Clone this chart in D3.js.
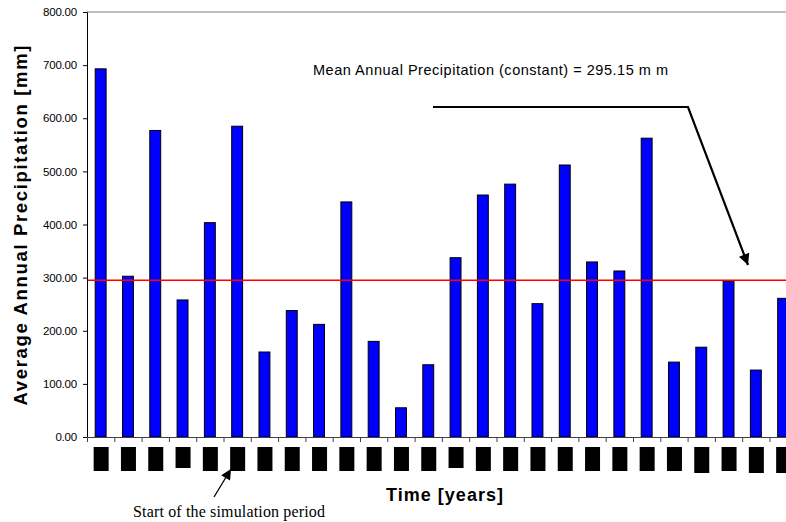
<!DOCTYPE html>
<html>
<head>
<meta charset="utf-8">
<script src="https://cdn.jsdelivr.net/npm/d3@7/dist/d3.min.js"></script>
<style>
  html, body { margin: 0; padding: 0; background: #fff; }
  svg { display: block; }
</style>
</head>
<body>
<svg id="chart" width="786" height="522"></svg>
<script>
// ---- data ----
const categories = ["1","2","3","4","5","6","7","8","9","10","11","12","13",
                    "14","15","16","17","18","19","20","21","22","23","24","25","26"];
const precipitation = [693, 302.6, 577, 258, 403.5, 585, 160, 238, 212, 442.5, 180, 55, 136,
                       337.5, 455.5, 476, 251, 512, 329.5, 312.5, 562.5, 141, 169, 293, 126, 261];
const meanPrecip = 295.15;
const yTicks = [0, 100, 200, 300, 400, 500, 600, 700, 800];
// redacted (blacked-out) year tick labels: relative length of each label box
const redactedLabelLen = [24,24,24,21,24,24,24,24,24,24,24,24,24,
                          21,24,24,24,24,24,24,24,24,26,24,26,26];

(function () {
// ---- layout ----
const svg = d3.select("#chart");
const pLeft = 87, pTop = 12, pBottom = 437;
const step = 27.3;
const pRight = pLeft + step * categories.length;

const y = d3.scaleLinear().domain([0, 800]).range([pBottom, pTop]);
const x = d3.scaleBand().domain(categories).range([pLeft, pRight])
  .paddingInner(0.6).paddingOuter(0.3);
const xb = d3.scaleLinear().domain([0, categories.length]).range([pLeft, pRight]);

const font = "'Liberation Sans', Arial, sans-serif";

// top border
svg.append("line").attr("x1", pLeft).attr("x2", 786).attr("y1", pTop).attr("y2", pTop)
  .attr("stroke", "#808080").attr("stroke-width", 1);

// bars
svg.append("g").selectAll("rect").data(precipitation).join("rect")
  .attr("x", (d, i) => x(categories[i]))
  .attr("y", d => y(d))
  .attr("width", x.bandwidth())
  .attr("height", d => y(0) - y(d))
  .attr("fill", "#0000ff")
  .attr("stroke", "#000")
  .attr("stroke-width", 1);

// mean line
svg.append("line").attr("x1", pLeft).attr("x2", 786)
  .attr("y1", y(meanPrecip)).attr("y2", y(meanPrecip))
  .attr("stroke", "#ff0000").attr("stroke-width", 1.5);

// y axis
const yAxis = svg.append("g").attr("transform", `translate(${pLeft},0)`)
  .call(d3.axisLeft(y).tickValues(yTicks).tickFormat(d3.format(".2f")).tickSize(4).tickPadding(6));
yAxis.select(".domain").attr("stroke", "#000");
yAxis.selectAll(".tick line").attr("stroke", "#000");
yAxis.selectAll("text").attr("font-family", font).attr("font-size", 11.5)
  .attr("letter-spacing", -0.2).attr("fill", "#000");

// x axis (ticks at category boundaries)
const xAxis = svg.append("g").attr("transform", `translate(0,${pBottom})`)
  .call(d3.axisBottom(xb).tickValues(d3.range(0, categories.length + 1)).tickFormat("").tickSize(5).tickSizeOuter(0));
xAxis.select(".domain").attr("stroke", "#404040");
xAxis.selectAll(".tick line").attr("stroke", "#404040");

// redacted tick labels
svg.append("g").selectAll("rect").data(redactedLabelLen).join("rect")
  .attr("x", (d, i) => x(categories[i]) + x.bandwidth() / 2 + 0.5 - 7.5)
  .attr("y", 447)
  .attr("width", 15)
  .attr("height", d => d)
  .attr("fill", "#000");

// axis titles
svg.append("text")
  .attr("transform", `translate(27,${(pTop + pBottom) / 2 + 1}) rotate(-90)`)
  .attr("text-anchor", "middle")
  .attr("font-family", font).attr("font-weight", "bold").attr("font-size", 18.5)
  .attr("textLength", 360).attr("lengthAdjust", "spacing")
  .text("Average Annual Precipitation [mm]");

svg.append("text")
  .attr("x", 444.5).attr("y", 501)
  .attr("text-anchor", "middle")
  .attr("font-family", font).attr("font-weight", "bold").attr("font-size", 18)
  .attr("textLength", 117).attr("lengthAdjust", "spacing")
  .text("Time [years]");

// annotations
const defs = svg.append("defs");
defs.append("marker").attr("id", "ah").attr("viewBox", "0 0 10 10")
  .attr("refX", 10).attr("refY", 5).attr("markerWidth", 6).attr("markerHeight", 5)
  .attr("markerUnits", "strokeWidth").attr("orient", "auto")
  .append("path").attr("d", "M0,0 L10,5 L0,10 Z").attr("fill", "#000");
defs.append("marker").attr("id", "ah2").attr("viewBox", "0 0 10 10")
  .attr("refX", 10).attr("refY", 5).attr("markerWidth", 10).attr("markerHeight", 8)
  .attr("markerUnits", "strokeWidth").attr("orient", "auto")
  .append("path").attr("d", "M0,0 L10,5 L0,10 Z").attr("fill", "#000");

svg.append("text")
  .attr("x", 313).attr("y", 75)
  .attr("font-family", font).attr("font-size", 14.5)
  .attr("textLength", 355).attr("lengthAdjust", "spacing")
  .text("Mean Annual Precipitation (constant) = 295.15 m m");

svg.append("path")
  .attr("d", "M433,107 L688,107 L748,265")
  .attr("fill", "none").attr("stroke", "#000").attr("stroke-width", 2.2)
  .attr("marker-end", "url(#ah)");

svg.append("path")
  .attr("d", "M214,497 L231,469")
  .attr("fill", "none").attr("stroke", "#000").attr("stroke-width", 1.3)
  .attr("marker-end", "url(#ah2)");

svg.append("text")
  .attr("x", 133).attr("y", 517)
  .attr("font-family", "'Liberation Serif', 'Times New Roman', serif").attr("font-size", 16)
  .attr("textLength", 192).attr("lengthAdjust", "spacing")
  .text("Start of the simulation period");
})();
</script>
</body>
</html>
